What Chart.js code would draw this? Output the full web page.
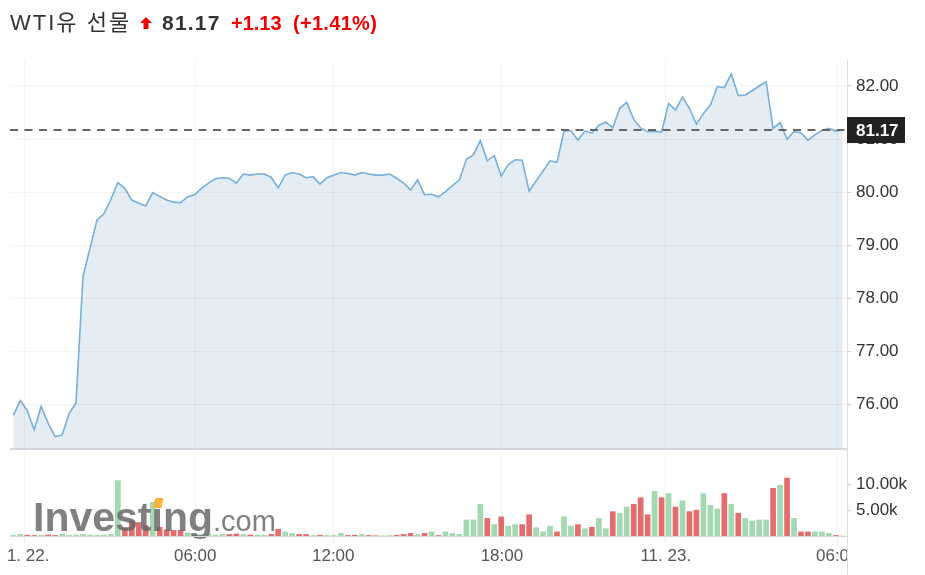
<!DOCTYPE html>
<html lang="ko">
<head>
<meta charset="UTF-8">
<title>WTI유 선물</title>
<script src="https://cdn.jsdelivr.net/npm/chart.js"></script>
<style>
    body { margin: 0; background: #fff; font-family: Arial, "Liberation Sans", "Noto Sans CJK KR", sans-serif; }
    #wrap { position: relative; width: 925px; height: 575px; }
    #chart { display: block; }
    #head span, #head svg { position: absolute; white-space: nowrap; line-height: 26px; top: 10px; }
    #head .name { left: 10px; font-size: 22px; letter-spacing: 2px; color: #333; }
    #head svg { left: 140px; top: 17px; }
    #head .last { left: 162px; font-size: 21px; letter-spacing: 1.2px; font-weight: bold; color: #333; }
    #head .chg { left: 231px; font-size: 20px; font-weight: bold; color: #e00; }
    #head .pct { left: 293px; font-size: 20px; letter-spacing: 0.3px; font-weight: bold; color: #e00; }
</style>
</head>
<body>
<div id="wrap">
    <canvas id="chart" width="925" height="575"></canvas>
    <div id="head">
        <span class="name">WTI유 선물</span>
        <svg width="12" height="12" viewBox="0 0 12 12"><polygon points="6,0 12,6 8.5,6 8.5,12 3.5,12 3.5,6 0,6" fill="#e00"/></svg>
        <span class="last" id="last"></span>
        <span class="chg" id="chg"></span>
        <span class="pct" id="pct"></span>
    </div>
</div>

<script>
    // x axis: point index, tick labels sit between points (time gaps)
    const xTickPos = [1.55, 26.1, 45.9, 70.1, 93.6, 118.2];
    const xTickText = ['11. 22.', '06:00', '12:00', '18:00', '11. 23.', '06:00'];

    // 15 minute closes
    const prices = [
        75.79, 76.07, 75.88, 75.52, 75.96, 75.64, 75.39, 75.42, 75.82, 76.03,
        78.41, 78.94, 79.47, 79.59, 79.86, 80.18, 80.07, 79.85, 79.79, 79.74,
        79.99, 79.92, 79.85, 79.81, 79.80, 79.91, 79.95, 80.07, 80.17, 80.25,
        80.27, 80.26, 80.17, 80.34, 80.32, 80.34, 80.34, 80.28, 80.08, 80.32,
        80.37, 80.34, 80.27, 80.29, 80.15, 80.27, 80.32, 80.37, 80.35, 80.32,
        80.37, 80.34, 80.32, 80.32, 80.34, 80.26, 80.17, 80.04, 80.23, 79.95,
        79.96, 79.91, 80.01, 80.12, 80.23, 80.62, 80.70, 80.97, 80.59, 80.69,
        80.30, 80.52, 80.61, 80.60, 80.02, 80.21, 80.40, 80.59, 80.56, 81.15,
        81.16, 80.98, 81.15, 81.11, 81.26, 81.32, 81.21, 81.58, 81.69, 81.37,
        81.21, 81.14, 81.15, 81.13, 81.67, 81.55, 81.79, 81.58, 81.28, 81.48,
        81.64, 81.99, 81.97, 82.23, 81.82, 81.83, 81.91, 82.00, 82.08, 81.20,
        81.31, 81.00, 81.14, 81.12, 80.98, 81.08, 81.16, 81.20, 81.15, 81.17
    ];

    const volumes = [
        150, 300, 150, 100, 150, 200, 100, 350, 100, 200,
        300, 200, 150, 200, 300, 10700, 1500, 2900, 2600, 2000,
        6500, 1700, 1200, 1100, 1100, 600, 300, 300, 400, 200,
        300, 300, 400, 300, 200, 200, 200, 300, 1300, 800,
        500, 300, 300, 100, 150, 100, 100, 500, 100, 150,
        300, 100, 50, 50, 100, 150, 300, 500, 300, 500,
        800, 100, 800, 500, 300, 3100, 3100, 6100, 3400, 2200,
        3700, 1900, 2200, 2200, 4100, 1600, 800, 1900, 800, 3700,
        1900, 2200, 1400, 1700, 3400, 1400, 4700, 4400, 5600, 6100,
        7400, 4100, 8600, 7400, 8200, 5600, 6800, 4700, 5000, 8200,
        5900, 5200, 8200, 6100, 4400, 3400, 2900, 3100, 3100, 9200,
        9800, 11200, 3400, 800, 800, 800, 800, 500, 100, 0
    ];

    const priceTicks = [76, 77, 78, 79, 80, 81, 82];
    const volumeTicks = [5000, 10000];

    const lastPrice = 81.17;
    const change = 1.13;
    const changePct = 1.41;

    document.getElementById('last').textContent = lastPrice.toFixed(2);
    document.getElementById('chg').textContent = '+' + change.toFixed(2);
    document.getElementById('pct').textContent = '(+' + changePct.toFixed(2) + '%)';

    const UP = '#a3d8b0';
    const DOWN = '#e36c6c';
    const FONT = 'Arial, "Liberation Sans", sans-serif';

    const priceData = prices.map((p, i) => ({x: i, y: p}));
    const volumeData = volumes.map((v, i) => ({x: i, y: v}));
    const volumeColors = volumes.map((v, i) => (i === 0 || prices[i] >= prices[i - 1]) ? UP : DOWN);

    function hline(ctx, x1, x2, y, color, width) {
        ctx.strokeStyle = color;
        ctx.lineWidth = width;
        ctx.beginPath();
        ctx.moveTo(x1, y);
        ctx.lineTo(x2, y);
        ctx.stroke();
    }

    // watermark, axis lines, price line, label box and clipped time labels
    const overlay = {
        id: 'overlay',
        afterDatasetsDraw(chart) {
            const ctx = chart.ctx;
            ctx.save();
            ctx.fillStyle = 'rgba(100,100,100,0.82)';
            ctx.font = 'bold 41px ' + FONT;
            ctx.textBaseline = 'alphabetic';
            ctx.fillText('Investing', 33, 531);
            const w = ctx.measureText('Investing').width;
            const wi = ctx.measureText('Invest').width;
            ctx.font = '29px ' + FONT;
            ctx.fillText('.com', 33 + w, 531);
            // orange dot on the i
            const ix = 33 + wi;
            ctx.fillStyle = '#f7b33c';
            ctx.beginPath();
            ctx.moveTo(ix + 1, 508);
            ctx.lineTo(ix + 4, 498);
            ctx.lineTo(ix + 12, 498);
            ctx.lineTo(ix + 10, 508);
            ctx.closePath();
            ctx.fill();
            ctx.restore();
        },
        afterDraw(chart) {
            const {ctx, chartArea: a, scales} = chart;
            const yP = scales.yPrice;
            ctx.save();

            hline(ctx, a.left, a.right, yP.bottom, '#c9cdd2', 1.5);
            hline(ctx, a.left, a.right, a.bottom + 0.5, '#d5d8dc', 1);

            // right axis line, full height
            ctx.strokeStyle = '#dedede';
            ctx.lineWidth = 1;
            ctx.beginPath();
            ctx.moveTo(a.right + 0.5, a.top);
            ctx.lineTo(a.right + 0.5, 575);
            ctx.stroke();

            // last price dashed line
            const y = yP.getPixelForValue(lastPrice);
            ctx.setLineDash([8, 6.5]);
            hline(ctx, a.left, a.right, y, '#666', 2);
            ctx.setLineDash([]);

            // last price box
            ctx.fillStyle = '#222';
            ctx.fillRect(a.right, y - 13, 58, 26);
            ctx.fillStyle = '#fff';
            ctx.font = 'bold 17px ' + FONT;
            ctx.textAlign = 'left';
            ctx.textBaseline = 'middle';
            ctx.fillText(lastPrice.toFixed(2), a.right + 9, y + 1);

            // time labels clipped to the plot width
            ctx.beginPath();
            ctx.rect(a.left - 2, a.bottom, a.right - a.left + 2, 575 - a.bottom);
            ctx.clip();
            ctx.fillStyle = '#555';
            ctx.font = '17px ' + FONT;
            ctx.textAlign = 'center';
            xTickPos.forEach((v, i) => {
                ctx.fillText(xTickText[i], scales.x.getPixelForValue(v), 556);
            });
            ctx.restore();
        }
    };

    const gridColor = 'rgba(0,0,0,0.045)';

    new Chart(document.getElementById('chart'), {
        type: 'line',
        data: {
            datasets: [{
                type: 'line',
                data: priceData,
                yAxisID: 'yPrice',
                borderColor: '#78afd8',
                borderWidth: 1.6,
                backgroundColor: '#e4ecf4',
                fill: 'start',
                pointRadius: 0,
                tension: 0
            }, {
                type: 'bar',
                data: volumeData,
                yAxisID: 'yVol',
                backgroundColor: volumeColors,
                barThickness: 5
            }]
        },
        options: {
            responsive: false,
            animation: false,
            devicePixelRatio: 1,
            layout: {padding: {left: 10, top: 60, right: 0, bottom: 0}},
            plugins: {legend: {display: false}, tooltip: {enabled: false}},
            scales: {
                x: {
                    type: 'linear',
                    min: -0.47,
                    max: 119.6,
                    offset: false,
                    afterBuildTicks: s => { s.ticks = xTickPos.map(v => ({value: v})); },
                    afterFit: s => { s.height = 39; },
                    ticks: {display: false},
                    grid: {color: gridColor, offset: false, z: 1, tickLength: 7, tickColor: 'rgba(0,0,0,0.07)'},
                    border: {display: false}
                },
                yPrice: {
                    position: 'right',
                    stack: 'pane',
                    stackWeight: 389,
                    min: 75.157,
                    max: 82.49,
                    afterBuildTicks: s => { s.ticks = priceTicks.map(v => ({value: v})); },
                    afterFit: s => { s.width = 78; },
                    ticks: {color: '#333', font: {size: 17, family: FONT}, padding: 5, autoSkip: false, callback: v => v.toFixed(2)},
                    grid: {color: gridColor, z: 1, tickLength: 4, tickColor: '#d0d0d0'},
                    border: {display: false}
                },
                yVol: {
                    position: 'right',
                    stack: 'pane',
                    stackWeight: 87,
                    min: 0,
                    max: 16800,
                    afterBuildTicks: s => { s.ticks = volumeTicks.map(v => ({value: v})); },
                    afterFit: s => { s.width = 78; },
                    ticks: {color: '#333', font: {size: 17, family: FONT}, padding: 5, autoSkip: false, callback: v => (v / 1000).toFixed(2) + 'k'},
                    grid: {drawOnChartArea: false, tickLength: 4, tickColor: '#d0d0d0'},
                    border: {display: false}
                }
            }
        },
        plugins: [overlay]
    });
</script>
</body>
</html>
